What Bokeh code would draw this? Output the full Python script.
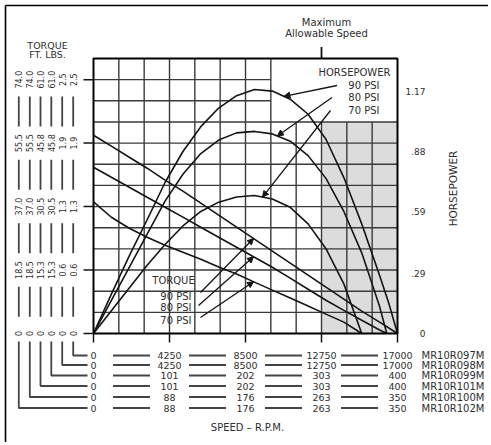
import math
import numpy as np
from bokeh.plotting import figure
from bokeh.models import Range1d, Arrow, NormalHead, ColumnDataSource
from bokeh.core.properties import value
from bokeh.embed import file_html
from bokeh.resources import INLINE

# ---------------- data ----------------
RPM_MAX = 17000          # MR10R097M speed scale (bottom row 1)
TORQUE_MAX = 2.5         # MR10R097M torque at top tick (ft-lbs)
MAX_ALLOWABLE = 12750    # maximum allowable speed marker

HP_TICKS = [0, 0.29, 0.59, 0.88, 1.17]
HP_LABELS = ["0", ".29", ".59", ".88", "1.17"]

MODELS = ["MR10R097M", "MR10R098M", "MR10R099M", "MR10R101M", "MR10R100M", "MR10R102M"]
SPEED_LABELS = [
    ["0", "4250", "8500", "12750", "17000"],
    ["0", "4250", "8500", "12750", "17000"],
    ["0", "101", "202", "303", "400"],
    ["0", "101", "202", "303", "400"],
    ["0", "88", "176", "263", "350"],
    ["0", "88", "176", "263", "350"],
]
# torque columns, left -> right (MR10R102M ... MR10R097M)
TORQUE_LABELS = [
    ["0", "18.5", "37.0", "55.5", "74.0"],
    ["0", "18.5", "37.0", "55.5", "74.0"],
    ["0", "15.3", "30.5", "45.8", "61.0"],
    ["0", "15.3", "30.5", "45.8", "61.0"],
    ["0", "0.6", "1.3", "1.9", "2.5"],
    ["0", "0.6", "1.3", "1.9", "2.5"],
]

# horsepower curves (HP) vs speed (rpm, MR10R097M scale)
HP90_RPM = [0, 1000, 2000, 3000, 4000, 5000, 6000, 7000, 8000, 9000, 10000, 11000, 12000, 13000, 14000, 15000, 16000, 16500, 17000]
HP90 = [0, 0.19, 0.375, 0.55, 0.73, 0.88, 1.0, 1.09, 1.15, 1.18, 1.172, 1.133, 1.06, 0.939, 0.754, 0.53, 0.28, 0.15, 0]
HP80_RPM = [0, 1000, 2000, 3000, 4000, 5000, 6000, 7000, 8000, 9000, 10000, 11000, 12000, 13000, 14000, 15000, 16000, 16400]
HP80 = [0, 0.16, 0.32, 0.48, 0.64, 0.77, 0.87, 0.935, 0.97, 0.977, 0.965, 0.93, 0.86, 0.75, 0.59, 0.39, 0.13, 0]
HP70_RPM = [0, 1000, 2000, 3000, 4000, 5000, 6000, 7000, 8000, 9000, 10000, 11000, 12000, 13000, 14000, 15000]
HP70 = [0, 0.11, 0.22, 0.33, 0.43, 0.52, 0.59, 0.635, 0.66, 0.667, 0.65, 0.61, 0.53, 0.41, 0.24, 0]

# torque curves (ft-lbs, MR10R097M scale)
T90_RPM = [0, 1000, 2000, 3000, 4000, 5000, 6000, 7000, 8000, 9000, 10000, 11000, 12000, 13000, 14000, 15000, 16000, 17000]
T90 = [1.953, 1.845, 1.736, 1.628, 1.510, 1.402, 1.284, 1.165, 1.047, 0.929, 0.811, 0.693, 0.575, 0.456, 0.338, 0.220, 0.112, 0]
T80_RPM = [0, 1000, 2000, 3000, 4000, 5000, 6000, 7000, 8000, 9000, 10000, 11000, 12000, 13000, 14000, 15000, 16000, 16400]
T80 = [1.638, 1.539, 1.441, 1.342, 1.244, 1.146, 1.047, 0.948, 0.850, 0.751, 0.653, 0.545, 0.436, 0.328, 0.228, 0.130, 0.035, 0]
T70_RPM = [0, 1000, 2000, 3000, 4000, 5000, 6000, 7000, 8000, 9000, 10000, 11000, 12000, 13000, 14000, 15000]
T70 = [1.296, 1.145, 1.037, 0.948, 0.870, 0.801, 0.732, 0.654, 0.585, 0.506, 0.427, 0.349, 0.270, 0.191, 0.112, 0]

# ---------------- layout (page pixels) ----------------
W, H = 488, 442
OX, OY = 0, 0
FR_L, FR_R, FR_T, FR_B = 93, 397, 58, 333
N_XDIV, N_YDIV = 12, 13
T_TOP = TORQUE_MAX * N_YDIV / 12
HP_TOP = 1.17 * (FR_B - FR_T) / (FR_B - 91)

FONT = "DejaVu Sans"
TXT = "#2e2e2e"
INK = "#141414"
GRID = "#3a3a3a"


def rx(px):
    return (px - FR_L) / (FR_R - FR_L) * RPM_MAX


def ty(py):
    return (FR_B - py) / (FR_B - FR_T) * T_TOP


def hy(py):
    return (FR_B - py) / (FR_B - FR_T) * HP_TOP


def dx(px):
    return px / (FR_R - FR_L) * RPM_MAX


def dy(px):
    return px / (FR_B - FR_T) * T_TOP


p = figure(width=W, height=H, output_backend="svg", toolbar_location=None, title=None,
           x_range=Range1d(rx(OX), rx(OX + W)), y_range=Range1d(ty(OY + H), ty(OY)),
           x_axis_type=None, y_axis_type=None,
           min_border=0, min_border_left=0, min_border_right=0, min_border_top=0, min_border_bottom=0)
p.extra_y_ranges = {"hp": Range1d(hy(OY + H), hy(OY))}
p.outline_line_color = None
p.background_fill_color = "white"
p.border_fill_color = "white"

xdiv = RPM_MAX / N_XDIV
ydiv = T_TOP / N_YDIV

# shaded region beyond maximum allowable speed
p.quad(left=[MAX_ALLOWABLE], right=[RPM_MAX], bottom=[0], top=[10 * ydiv],
       fill_color="#dcdcdc", line_color=None)

# grid (legend box at top right left blank)
gx0, gy0, gx1, gy1 = [], [], [], []
for k in range(1, N_XDIV):
    gx0.append(k * xdiv); gx1.append(k * xdiv)
    gy0.append(0); gy1.append(T_TOP if k <= 7 else 10 * ydiv)
for j in range(1, N_YDIV):
    gy0.append(j * ydiv); gy1.append(j * ydiv)
    gx0.append(0); gx1.append(RPM_MAX if j <= 10 else 7 * xdiv)
p.segment(gx0, gy0, gx1, gy1, line_color=GRID, line_width=1.4)

# curves
for xs, ys in [(HP90_RPM, HP90), (HP80_RPM, HP80), (HP70_RPM, HP70)]:
    p.line(xs, ys, y_range_name="hp", line_color=INK, line_width=1.6)
for xs, ys in [(T90_RPM, T90), (T80_RPM, T80), (T70_RPM, T70)]:
    p.line(xs, ys, line_color=INK, line_width=1.6)

# plot frame
p.quad(left=[0], right=[RPM_MAX], bottom=[0], top=[T_TOP], fill_color=None,
       line_color="black", line_width=2)


def texts(xs, ys, txt, size, align="center", angle=0.0, baseline="middle", y_range_name=None):
    src = ColumnDataSource(dict(x=list(xs), y=list(ys), t=list(txt)))
    kw = {"y_range_name": y_range_name} if y_range_name else {}
    p.text(x="x", y="y", text="t", source=src, angle=angle, text_font=value(FONT),
           text_font_size=value(size), text_color=TXT, text_align=align,
           text_baseline=baseline, **kw)


# legend texts
texts([rx(390)], [ty(71.5)], ["HORSEPOWER"], "10px", align="right")
texts([rx(379)] * 3, [ty(85), ty(97), ty(110)], ["90 PSI", "80 PSI", "70 PSI"], "10px", align="right")
texts([rx(173)], [ty(280)], ["TORQUE"], "10px")
texts([rx(191)] * 3, [ty(295.5), ty(307), ty(320)], ["90 PSI", "80 PSI", "70 PSI"], "10px", align="right")


# pointer arrows (tips on the curves)
def pointer(x0, y0, x1, y1, hp=False):
    kw = {"y_range_name": "hp"} if hp else {}
    p.add_layout(Arrow(x_start=x0, y_start=y0, x_end=x1, y_end=y1, line_width=1.3, line_color=INK,
                       end=NormalHead(size=6, fill_color=INK, line_color=INK), **kw))


for (sx, sy), (cx, cr, cv) in zip([(336.5, 85), (331.5, 97), (330, 110)],
                                   [(10650, HP90_RPM, HP90), (10280, HP80_RPM, HP80), (9450, HP70_RPM, HP70)]):
    pointer(rx(sx), hy(sy), cx, float(np.interp(cx, cr, cv)), hp=True)
for (sx, sy), (cx, cr, cv) in zip([(200, 292), (198, 305), (200, 317)],
                                   [(8950, T90_RPM, T90), (8950, T80_RPM, T80), (8950, T70_RPM, T70)]):
    pointer(rx(sx), ty(sy), cx, float(np.interp(cx, cr, cv)))

# ---------------- scales around the frame ----------------
t_main = [TORQUE_MAX * i / 4 for i in range(5)]
t_mid = [TORQUE_MAX * (i + 0.5) / 4 for i in range(4)]
s_main = [RPM_MAX * i / 4 for i in range(5)]
s_mid = [RPM_MAX * (i + 0.5) / 4 for i in range(4)]

# tick marks: left (torque) and below (speed)
p.segment([rx(83)] * 5, t_main, [0] * 5, t_main, line_color=INK, line_width=1.5)
p.segment(s_main, [0] * 5, s_main, [ty(342)] * 5, line_color=INK, line_width=1.5)

# torque columns (rotated), with bar separators
COL_X = [18.3, 29.3, 40.0, 50.8, 61.7, 72.7]
cx_, cy_, ct_ = [], [], []
sx0, sy0, sx1, sy1 = [], [], [], []
for ci, labels in enumerate(TORQUE_LABELS):
    for t, s in zip(t_main, labels):
        cx_.append(rx(COL_X[ci])); cy_.append(t); ct_.append(s)
    for m in t_mid:
        sx0.append(rx(COL_X[ci])); sx1.append(rx(COL_X[ci]))
        sy0.append(m - dy(15)); sy1.append(m + dy(15))
texts(cx_, cy_, ct_, "8px", angle=math.pi / 2)
p.segment(sx0, sy0, sx1, sy1, line_color="#444444", line_width=1.8)

# speed rows, with bar separators, and model names
ROW_Y = [355, 364.5, 375, 385.5, 396.5, 407.5]
rx_, ry_, rt_ = [], [], []
bx0, by0, bx1, by1 = [], [], [], []
for ri, labels in enumerate(SPEED_LABELS):
    for s, lab_ in zip(s_main, labels):
        rx_.append(s); ry_.append(ty(ROW_Y[ri])); rt_.append(lab_)
    for m in s_mid:
        bx0.append(m - dx(18.5)); bx1.append(m + dx(18.5))
        by0.append(ty(ROW_Y[ri])); by1.append(ty(ROW_Y[ri]))
texts(rx_, ry_, rt_, "9.5px")
p.segment(bx0, by0, bx1, by1, line_color="#444444", line_width=1.8)
texts([rx(421)] * 6, [ty(y) for y in ROW_Y], MODELS, "10px", align="left")

# connectors from each torque column to its speed row
lx, ly = [], []
for ci in range(6):
    yy = ROW_Y[5 - ci]
    lx.append([rx(COL_X[ci]), rx(COL_X[ci]), rx(87)])
    ly.append([ty(341), ty(yy), ty(yy)])
p.multi_line(lx, ly, line_color="#444444", line_width=1.8)

texts([rx(247)], [ty(427)], ["SPEED \u2013 R.P.M."], "10px")

# right: horsepower scale
texts([rx(425)] * 5, HP_TICKS, HP_LABELS, "9px", align="right", y_range_name="hp")
texts([rx(452)], [ty(188)], ["HORSEPOWER"], "10.5px", angle=math.pi / 2)

# top: maximum allowable speed
p.segment([MAX_ALLOWABLE], [T_TOP], [MAX_ALLOWABLE], [ty(46.5)], line_color=INK, line_width=1.8)
texts([rx(326)] * 2, [ty(21.7), ty(32.7)], ["Maximum", "Allowable Speed"], "10px")

# torque header
texts([rx(47)] * 2, [ty(45), ty(53.5)], ["TORQUE", "FT. LBS."], "9.5px")

# outer border (top and left)
p.multi_line([[rx(5), rx(OX + W)], [rx(5), rx(5)]], [[ty(5), ty(5)], [ty(5), ty(OY + H)]],
             line_color="black", line_width=1.6)

open("out.html", "w").write(file_html(p, INLINE))
